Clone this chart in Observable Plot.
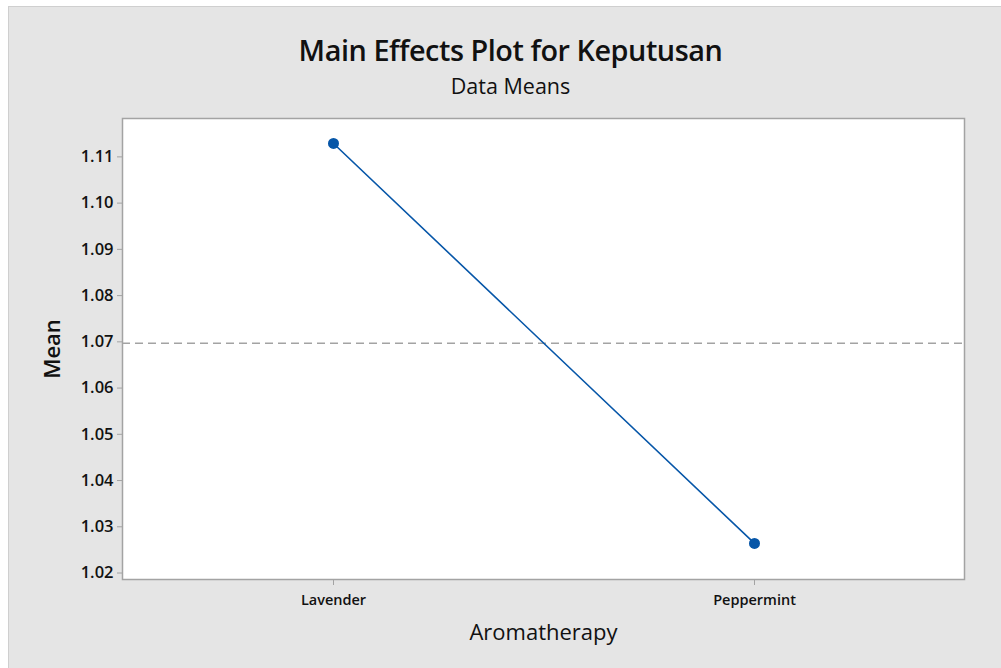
<!DOCTYPE html>
<html>
<head>
<meta charset="utf-8">
<script src="https://cdn.jsdelivr.net/npm/d3@7"></script>
<script src="https://cdn.jsdelivr.net/npm/@observablehq/plot@0.6"></script>
<style>
  html, body { margin: 0; padding: 0; background: #ffffff; }
  #page { position: relative; width: 1001px; height: 668px; overflow: hidden; font-family: "Open Sans", "Noto Sans", sans-serif; }
  #bg { position: absolute; left: 8px; top: 6px; right: 0; bottom: 0; background: #e5e5e5; border-left: 1px solid #cfcfcf; border-top: 1px solid #cfcfcf; }
  #title { position: absolute; left: 8px; right: 0; top: 36px; text-align: center; font-size: 28.8px; font-weight: 600; color: #111; letter-spacing: -0.45px; line-height: 1; padding-left: 12px; }
  #subtitle { position: absolute; left: 8px; right: 0; top: 75px; text-align: center; font-size: 21.5px; font-weight: 400; color: #111; letter-spacing: 0px; line-height: 1; padding-left: 12px; }
  #chart { position: absolute; left: 0; top: 110px; }
</style>
</head>
<body>
<div id="page">
  <div id="bg"></div>
  <div id="title">Main Effects Plot for Keputusan</div>
  <div id="subtitle">Data Means</div>
  <div id="chart"></div>
</div>
<script>
// Data
const levels = ["Lavender", "Peppermint"];
const means = [1.1129, 1.0264];
const grandMean = 1.0697;
const yTicks = [1.02, 1.03, 1.04, 1.05, 1.06, 1.07, 1.08, 1.09, 1.10, 1.11];
const xLabel = "Aromatherapy";
const yLabel = "Mean";

const data = levels.map((level, i) => ({ level, mean: means[i] }));

const blue = "#0656a8";
const grey = "#a3a3a3";

const chart = Plot.plot({
  width: 1001,
  height: 558,
  marginLeft: 122,
  marginRight: 37,
  marginTop: 8,
  marginBottom: 89,
  style: { background: "transparent", fontFamily: "'Open Sans', 'Noto Sans', sans-serif", color: "#111" },
  x: { type: "point", domain: levels, padding: 0.5, axis: null },
  y: { domain: [1.0186, 1.1183], axis: null },
  marks: [
    Plot.frame({ fill: "white", stroke: grey, strokeWidth: 1.5 }),
    Plot.ruleY([grandMean], { stroke: grey, strokeWidth: 1.5, strokeDasharray: "8,5" }),
    Plot.line(data, { x: "level", y: "mean", stroke: blue, strokeWidth: 1.6 }),
    Plot.dot(data, { x: "level", y: "mean", r: 5.5, fill: blue, stroke: "none" }),
    Plot.axisY(yTicks, {
      anchor: "left", tickSize: 5, tickPadding: 4, tickFormat: d3.format(".2f"),
      stroke: grey, fill: "#111", fontSize: 16.5, fontWeight: 600, label: null
    }),
    Plot.axisX(levels, {
      anchor: "bottom", tickSize: 6, tickPadding: 9,
      stroke: grey, fill: "#111", fontSize: 14.5, fontWeight: 600, label: null
    }),
    Plot.text([yLabel], {
      frameAnchor: "left", dx: -70, rotate: -90, text: d => d,
      fontSize: 22, fontWeight: 600, fill: "#111", textAnchor: "middle", lineAnchor: "middle"
    }),
    Plot.text([xLabel], {
      frameAnchor: "bottom", dy: 53, text: d => d,
      fontSize: 22, fill: "#111", textAnchor: "middle", lineAnchor: "middle"
    })
  ]
});
document.getElementById("chart").appendChild(chart);
</script>
</body>
</html>
